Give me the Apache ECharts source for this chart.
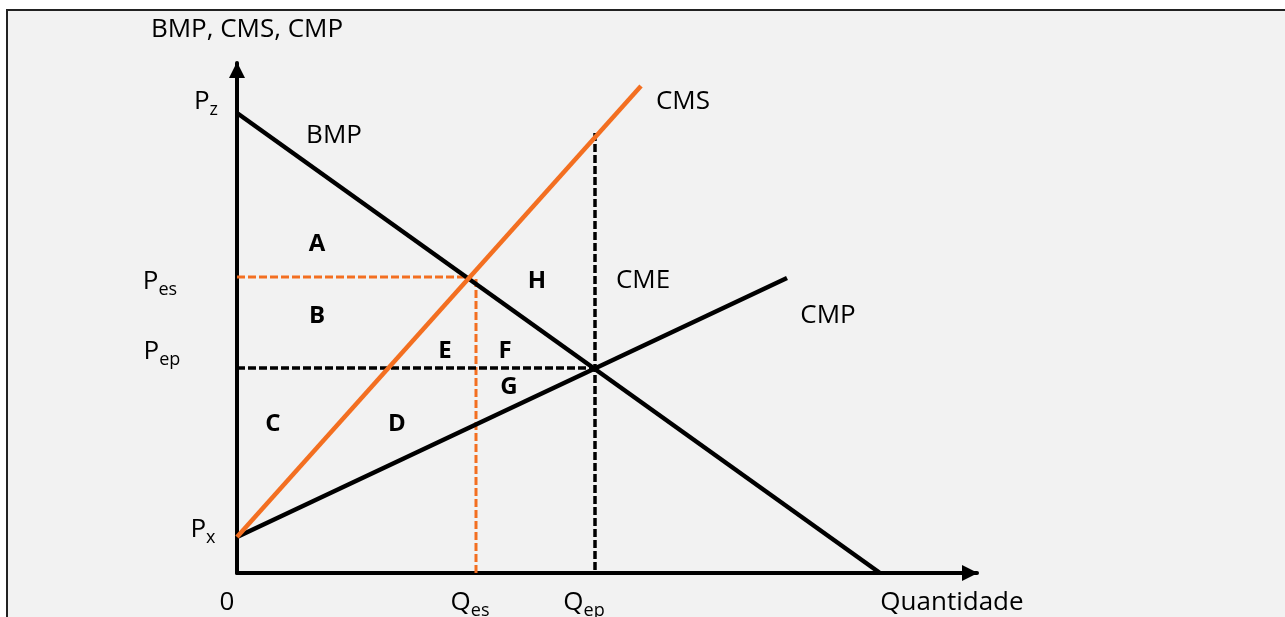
<!DOCTYPE html>
<html>
<head>
<meta charset="utf-8">
<script src="https://cdn.jsdelivr.net/npm/echarts@6/dist/echarts.min.js"></script>
<style>
  html, body { margin: 0; padding: 0; background: #fff; }
  #chart { width: 1285px; height: 617px; }
</style>
</head>
<body>
<div id="chart"></div>
<script>
// curves, in axis units [quantidade, preco]
const bmp = [[0, 460], [643, 0]]
const cms = [[0, 36], [404, 487]]
const cmp = [[0, 36], [550, 295]]

// guides at the two equilibria
const pesLine = [[0, 296], [235, 296]]
const qesLine = [[239, 294], [239, 0]]
const pepLine = [[0, 205], [359, 205]]
const qepLine = [[358, 440], [358, 0]]

// tick labels: [x, y, main, subscript]
const priceTicks = [[-31, 469, 'P', 'z'], [-77, 289, 'P', 'es'], [-75, 219, 'P', 'ep'], [-34, 41, 'P', 'x']]
const qtyTicks = [[-10, -32, '0', ''], [233, -32, 'Q', 'es'], [347, -32, 'Q', 'ep']]

// curve names and axis titles: [x, y, text]
const curveNames = [[97, 437, 'BMP'], [446, 471, 'CMS'], [406, 292, 'CME'], [591, 257, 'CMP'],
  [10, 543, 'BMP, CMS, CMP'], [715, -30, 'Quantidade']]

// areas: [x, y, letter]
const areas = [[80, 329, 'A'], [300, 292, 'H'], [80, 257, 'B'], [208, 222, 'E'], [268, 222, 'F'],
  [272, 186, 'G'], [36, 149, 'C'], [160, 149, 'D']]

const orange = '#f36f21'
const ink = '#000000'
const font = 'Open Sans'

const chart = echarts.init(document.getElementById('chart'))

function lineSeries(data, color, width, type, z) {
  return {
    type: 'line',
    data: data,
    symbol: 'none',
    silent: true,
    z: z,
    lineStyle: { color: color, width: width, type: type }
  }
}

function textSeries(data, formatter, rich) {
  return {
    type: 'scatter',
    data: data,
    symbolSize: 0,
    clip: false,
    silent: true,
    z: 10,
    itemStyle: { opacity: 1 },
    label: {
      show: true,
      position: 'inside',
      formatter: formatter,
      color: ink,
      opacity: 1,
      textBorderWidth: 0,
      fontFamily: font,
      fontSize: 26,
      rich: rich
    }
  }
}

const subRich = {
  p: { fontFamily: font, fontSize: 26, color: ink, lineHeight: 30, verticalAlign: 'top' },
  s: { fontFamily: font, fontSize: 18, color: ink, lineHeight: 20, verticalAlign: 'bottom' }
}

const axisLine = {
  lineStyle: { color: '#000', width: 4 },
  symbol: ['none', 'triangle'],
  symbolSize: [16, 16],
  symbolOffset: [0, -7]
}

const option = {
  backgroundColor: '#ffffff',
  animation: false,
  graphic: [{
    type: 'rect',
    z: -10,
    silent: true,
    shape: { x: 7, y: 10, width: 1300, height: 640 },
    style: { fill: '#f2f2f2', stroke: '#222', lineWidth: 2 }
  }],
  grid: { left: 237, top: 63, right: 308, bottom: 44 },
  xAxis: {
    type: 'value', min: 0, max: 740,
    axisLine: axisLine,
    axisTick: { show: false }, axisLabel: { show: false }, splitLine: { show: false }
  },
  yAxis: {
    type: 'value', min: 0, max: 510,
    axisLine: axisLine,
    axisTick: { show: false }, axisLabel: { show: false }, splitLine: { show: false }
  },
  series: [
    lineSeries(pesLine, orange, 3, [8, 3], 2),
    lineSeries(qesLine, orange, 3, [8, 3], 2),
    lineSeries(pepLine, '#000', 3.5, [8, 3], 2),
    lineSeries(qepLine, '#000', 3.5, [8, 3], 2),
    lineSeries(bmp, '#000', 4.5, 'solid', 3),
    lineSeries(cmp, '#000', 4.5, 'solid', 3),
    lineSeries(cms, orange, 4.5, 'solid', 4),
    textSeries(priceTicks.concat(qtyTicks), p => '{p|' + p.data[2] + '}' + (p.data[3] ? '{s|' + p.data[3] + '}' : ''), subRich),
    textSeries(curveNames, p => p.data[2], {}),
    textSeries(areas, p => '{b|' + p.data[2] + '}', { b: { fontFamily: font, fontSize: 24, fontWeight: 'bold', color: ink } })
  ]
}

chart.setOption(option)
</script>
</body>
</html>
